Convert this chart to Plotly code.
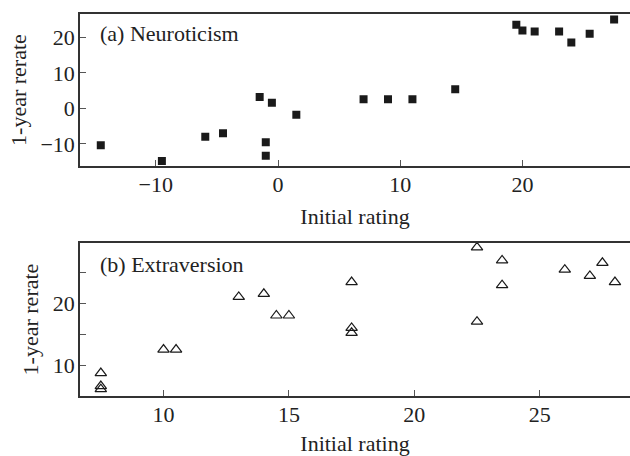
import plotly.graph_objects as go
from plotly.subplots import make_subplots

# Panel (a) Neuroticism
neuro_initial = [-14.5, -9.5, -5.95, -4.5, -1.5, -0.5, -1.0, -1.0, 1.5,
                 7.0, 9.0, 11.0, 14.5, 19.5, 20.0, 21.0, 23.0, 24.0, 25.5, 27.5]
neuro_rerate = [-10.4, -14.8, -8.0, -7.0, 3.2, 1.6, -9.5, -13.3, -1.8,
                2.6, 2.6, 2.6, 5.4, 23.5, 21.9, 21.6, 21.6, 18.5, 21.0, 25.0]

# Panel (b) Extraversion
extra_initial = [7.5, 7.5, 7.5, 10.0, 10.5, 13.0, 14.0, 14.5, 15.0,
                 17.5, 17.5, 17.5, 22.5, 22.5, 23.5, 23.5, 26.0, 27.0, 27.5, 28.0]
extra_rerate = [8.8, 6.7, 6.2, 12.6, 12.6, 21.1, 21.6, 18.1, 18.1,
                23.5, 16.1, 15.3, 29.1, 17.1, 27.0, 23.0, 25.5, 24.5, 26.6, 23.5]

FONT = "Liberation Serif"
TXT = "#222222"
LINE = "#333333"
FS = 22

fig = make_subplots(rows=2, cols=1)

fig.add_trace(go.Scatter(x=neuro_initial, y=neuro_rerate, mode="markers",
                         marker=dict(symbol="square", size=8, color="#1a1a1a"),
                         showlegend=False), row=1, col=1)
fig.add_trace(go.Scatter(x=extra_initial, y=extra_rerate, mode="markers",
                         marker=dict(symbol="triangle-up-open", size=10, color="#1a1a1a",
                                     line=dict(width=1.2)),
                         showlegend=False), row=2, col=1)

axis_common = dict(showline=True, linecolor=LINE, linewidth=1.5, ticks="inside",
                   ticklen=6, tickcolor="#555555", tickwidth=1.2, showgrid=False,
                   zeroline=False, automargin=False,
                   tickfont=dict(family=FONT, size=FS, color=TXT))
title_font = dict(family=FONT, size=FS, color=TXT)

fig.update_layout(
    width=630, height=456, plot_bgcolor="white", paper_bgcolor="white",
    margin=dict(l=80, r=0, t=0, b=0),
    font=dict(family=FONT, color=TXT),
    xaxis=dict(domain=[0, 1], range=[-16.2, 28.8], dtick=10, tick0=0, mirror=True,
               ticklabelstandoff=-2,
               title=dict(text="Initial rating", font=title_font, standoff=12), **axis_common),
    yaxis=dict(domain=[0.636, 0.969], range=[-16.2, 26.5], dtick=10, tick0=0,
               ticklabelstandoff=-1,
               title=dict(text="1-year rerate", font=title_font, standoff=8), **axis_common),
    xaxis2=dict(domain=[0, 1], range=[6.67, 28.6], dtick=5, tick0=0, mirror=True,
                ticklabelstandoff=-2,
                title=dict(text="Initial rating", font=title_font, standoff=12), **axis_common),
    yaxis2=dict(domain=[0.1316, 0.467], range=[5.1, 29.8], dtick=10, tick0=0,
                ticklabelstandoff=-1,
                minor=dict(dtick=5, tick0=0, ticks="inside", ticklen=6,
                           tickcolor="#555555", tickwidth=1.2),
                title=dict(text="1-year rerate", font=title_font, standoff=8), **axis_common),
    annotations=[
        dict(text="(a) Neuroticism", xref="x domain", yref="y domain", x=0.033, y=0.87,
             xanchor="left", yanchor="middle", showarrow=False, font=title_font),
        dict(text="(b) Extraversion", xref="x2 domain", yref="y2 domain", x=0.033, y=0.86,
             xanchor="left", yanchor="middle", showarrow=False, font=title_font),
    ],
)

fig.write_html("out.html", config={"displayModeBar": False},
               post_script="document.body.style.margin='0';")
